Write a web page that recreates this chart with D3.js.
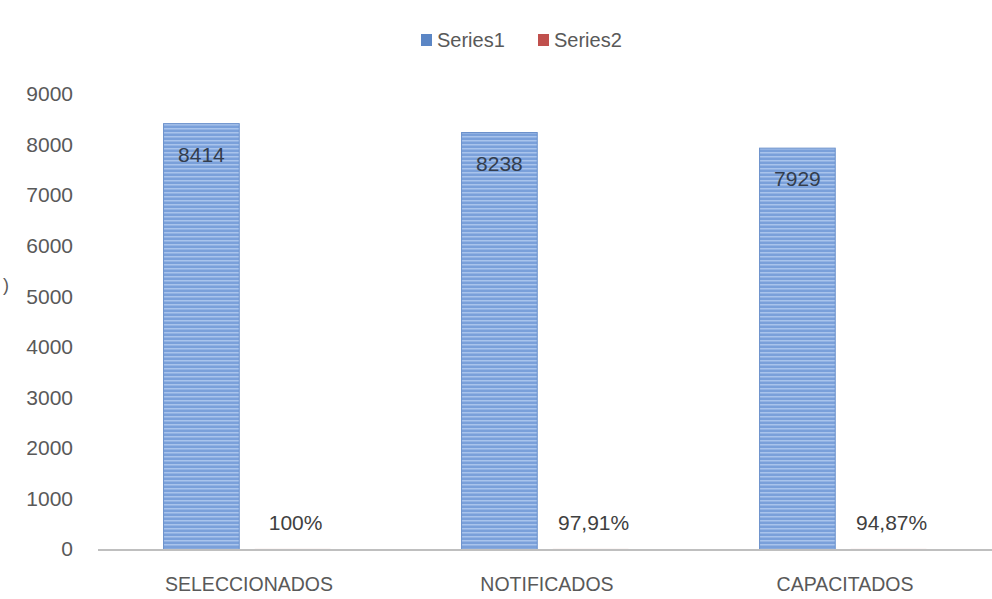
<!DOCTYPE html>
<html>
<head>
<meta charset="utf-8">
<script src="https://cdn.jsdelivr.net/npm/d3@7"></script>
<style>
  body { margin: 0; background: #fff; }
  svg { display: block; font-family: "Liberation Sans", Arial, sans-serif; }
</style>
</head>
<body>
<svg width="992" height="599"></svg>
<script>
const categories = ['SELECCIONADOS', 'NOTIFICADOS', 'CAPACITADOS'];
const seriesNames = ['Series1', 'Series2'];
const series1 = [8414, 8238, 7929];
const series2 = [1, 0.9791, 0.9487];
const series2Labels = ['100%', '97,91%', '94,87%'];
const yTicks = [0, 1000, 2000, 3000, 4000, 5000, 6000, 7000, 8000, 9000];
const colors = ['#7ea2da', '#c0504d'];

const svg = d3.select('svg');

// stripey fill like the picture
const defs = svg.append('defs');
const pat = defs.append('pattern')
    .attr('id', 'stripes')
    .attr('patternUnits', 'userSpaceOnUse')
    .attr('width', 8).attr('height', 4);
pat.append('rect').attr('width', 8).attr('height', 4).attr('fill', '#7aa0da');
pat.append('rect').attr('y', 0).attr('width', 8).attr('height', 1.5).attr('fill', '#a9c4ec');

const x0 = d3.scaleBand()
    .domain(categories)
    .range([98, 992])
    .paddingInner(0.44)
    .paddingOuter(0.22);

const x1 = d3.scaleBand()
    .domain(seriesNames)
    .range([0, x0.bandwidth()])
    .paddingInner(0.17);

const y = d3.scaleLinear()
    .domain([0, 9000])
    .range([549, 94]);

// y tick labels (no axis line)
svg.append('g')
  .selectAll('text')
  .data(yTicks)
  .join('text')
    .attr('x', 73)
    .attr('y', d => y(d))
    .attr('dy', '0.35em')
    .attr('text-anchor', 'end')
    .attr('font-size', 21)
    .attr('fill', '#595959')
    .text(d => d);

// cut-off axis title remnant
svg.append('text')
    .attr('x', 3).attr('y', 291)
    .attr('font-size', 18).attr('fill', '#595959')
    .text(')');

const rows = categories.map((c, i) => ({cat: c, v1: series1[i], v2: series2[i], lab2: series2Labels[i]}));

const g = svg.append('g');

// Series1 bars
g.selectAll('rect.s1')
  .data(rows)
  .join('rect')
    .attr('class', 's1')
    .attr('x', d => x0(d.cat) + x1('Series1'))
    .attr('y', d => y(d.v1))
    .attr('width', x1.bandwidth())
    .attr('height', d => y(0) - y(d.v1))
    .attr('fill', 'url(#stripes)')
    .attr('stroke', '#6a90cb')
    .attr('stroke-width', 1);

// Series2 bars (tiny)
g.selectAll('rect.s2')
  .data(rows)
  .join('rect')
    .attr('class', 's2')
    .attr('x', d => x0(d.cat) + x1('Series2'))
    .attr('y', d => y(d.v2))
    .attr('width', x1.bandwidth())
    .attr('height', d => y(0) - y(d.v2))
    .attr('fill', colors[1]);

// x axis line
svg.append('line')
    .attr('x1', 98).attr('x2', 992)
    .attr('y1', y(0) + 1).attr('y2', y(0) + 1)
    .attr('stroke', '#bfbfbf')
    .attr('stroke-width', 2);

// data labels
g.selectAll('text.l1')
  .data(rows)
  .join('text')
    .attr('class', 'l1')
    .attr('x', d => x0(d.cat) + x1('Series1') + x1.bandwidth() / 2)
    .attr('y', d => y(d.v1) + 38)
    .attr('text-anchor', 'middle')
    .attr('font-size', 21)
    .attr('fill', '#333d4d')
    .text(d => d.v1);

g.selectAll('text.l2')
  .data(rows)
  .join('text')
    .attr('class', 'l2')
    .attr('x', d => x0(d.cat) + x1('Series2') + x1.bandwidth() / 2 + 3)
    .attr('y', d => y(d.v2) - 19)
    .attr('text-anchor', 'middle')
    .attr('font-size', 21)
    .attr('fill', '#404040')
    .text(d => d.lab2);

// category labels
svg.append('g')
  .selectAll('text')
  .data(categories)
  .join('text')
    .attr('x', d => x0(d) + x0.bandwidth() / 2 + 2)
    .attr('y', 591)
    .attr('text-anchor', 'middle')
    .attr('font-size', 19.5)
    .attr('fill', '#595959')
    .text(d => d);

// legend
const leg = svg.append('g');
const legX = [421, 538];
seriesNames.forEach((s, i) => {
  leg.append('rect')
      .attr('x', legX[i]).attr('y', 34)
      .attr('width', 11).attr('height', 12)
      .attr('fill', i === 0 ? '#5b86c5' : colors[1]);
  leg.append('text')
      .attr('x', legX[i] + 16).attr('y', 47)
      .attr('font-size', 20)
      .attr('fill', '#595959')
      .text(s);
});
</script>
</body>
</html>
